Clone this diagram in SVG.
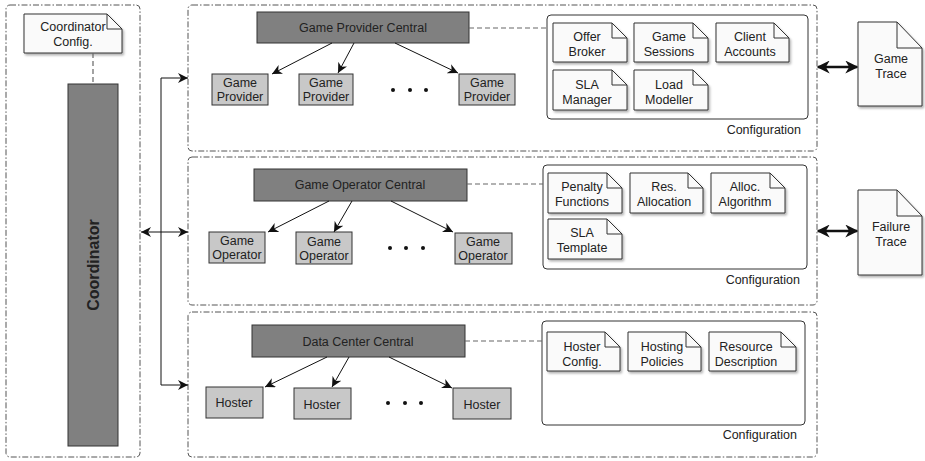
<svg xmlns="http://www.w3.org/2000/svg" width="925" height="461" viewBox="0 0 925 461">
<style>
text{font-family:"Liberation Sans",Arial,sans-serif;font-size:12.5px;fill:#222;text-anchor:middle}
.sec{fill:none;stroke:#555;stroke-width:1;stroke-dasharray:6,2,1.5,2}
.cfg{fill:#fff;stroke:#333;stroke-width:1}
.central{fill:#808080;stroke:#333;stroke-width:1}
.sub{fill:#c8c8c8;stroke:#333;stroke-width:1}
.note{fill:#fafafa;stroke:#333;stroke-width:1;filter:url(#sh)}
.fold{fill:none;stroke:#333;stroke-width:1}
.dash{fill:none;stroke:#666;stroke-width:1.2;stroke-dasharray:5,3}
.con{fill:none;stroke:#111;stroke-width:1}
.thick{fill:none;stroke:#111;stroke-width:2.5}
.lbl{text-anchor:end}
</style>
<defs>
<filter id="sh" x="-20%" y="-20%" width="150%" height="150%"><feDropShadow dx="1.5" dy="2" stdDeviation="1.2" flood-color="#000" flood-opacity="0.3"/></filter>
<marker id="ah" viewBox="0 0 10 10" refX="10" refY="5" markerWidth="10" markerHeight="10" markerUnits="userSpaceOnUse" orient="auto-start-reverse"><path d="M0,0 L10,5 L0,10 L3,5 Z" fill="#111"/></marker>
<marker id="ahb" viewBox="0 0 10 10" refX="9" refY="5" markerWidth="13" markerHeight="13" markerUnits="userSpaceOnUse" orient="auto-start-reverse"><path d="M0,0 L10,5 L0,10 L3,5 Z" fill="#111"/></marker>
</defs>

<g id="coordinator-section">
<rect class="sec" x="6" y="5" width="134" height="452" rx="4"/>
</g>
<g id="coordinator-config">
<path class="note" d="M24,14 H107 L122,29 V53 H24 Z"/>
<path class="fold" d="M107,14 V29 H122"/>
<text x="73" y="31">Coordinator</text>
<text x="73" y="46">Config.</text>
</g>
<g id="coordinator">
<rect class="central" x="68" y="84" width="50" height="362"/>
<text transform="translate(99,265) rotate(-90)" style="font-weight:bold;font-size:16px">Coordinator</text>
</g>

<g id="provider-section"><rect class="sec" x="188" y="5" width="629" height="146" rx="4"/></g>
<g id="operator-section"><rect class="sec" x="188" y="157" width="629" height="148" rx="4"/></g>
<g id="datacenter-section"><rect class="sec" x="188" y="312" width="629" height="145" rx="4"/></g>

<g id="game-provider-central"><rect class="central" x="257" y="12" width="212" height="31"/><text x="363" y="32">Game Provider Central</text></g>
<g id="game-provider-1"><rect class="sub" x="212" y="74" width="56" height="31"/><text x="240" y="87">Game</text><text x="240" y="101">Provider</text></g>
<g id="game-provider-2"><rect class="sub" x="299" y="74" width="54" height="31"/><text x="326" y="87">Game</text><text x="326" y="101">Provider</text></g>
<g id="game-provider-3"><rect class="sub" x="459" y="74" width="56" height="31"/><text x="487" y="87">Game</text><text x="487" y="101">Provider</text></g>
<g id="provider-dots" fill="#111"><circle cx="393" cy="90" r="2"/><circle cx="410" cy="90" r="2"/><circle cx="426" cy="90" r="2"/></g>

<g id="provider-config">
<rect class="cfg" x="547" y="15" width="261" height="104" rx="4"/>
<text class="lbl" x="801" y="134">Configuration</text>
</g>
<g id="offer-broker"><path class="note" d="M553,23 H612 L627,38 V62 H553 Z"/><path class="fold" d="M612,23 V38 H627"/><text x="587" y="41">Offer</text><text x="587" y="56">Broker</text></g>
<g id="game-sessions"><path class="note" d="M634,23 H693 L708,38 V62 H634 Z"/><path class="fold" d="M693,23 V38 H708"/><text x="669" y="41">Game</text><text x="669" y="56">Sessions</text></g>
<g id="client-accounts"><path class="note" d="M716,23 H774 L789,38 V62 H716 Z"/><path class="fold" d="M774,23 V38 H789"/><text x="750" y="41">Client</text><text x="750" y="56">Accounts</text></g>
<g id="sla-manager"><path class="note" d="M553,70 H612 L627,85 V110 H553 Z"/><path class="fold" d="M612,70 V85 H627"/><text x="587" y="89">SLA</text><text x="587" y="104">Manager</text></g>
<g id="load-modeller"><path class="note" d="M634,70 H693 L708,85 V110 H634 Z"/><path class="fold" d="M693,70 V85 H708"/><text x="669" y="89">Load</text><text x="669" y="104">Modeller</text></g>
<g id="game-trace"><path class="note" d="M858,22 H897 L922,48 V106 H858 Z"/><path class="fold" d="M897,22 V48 H922"/><text x="891" y="63">Game</text><text x="891" y="78">Trace</text></g>

<g id="game-operator-central"><rect class="central" x="254" y="169" width="213" height="32"/><text x="360" y="189">Game Operator Central</text></g>
<g id="game-operator-1"><rect class="sub" x="209" y="232" width="56" height="31"/><text x="237" y="245">Game</text><text x="237" y="259">Operator</text></g>
<g id="game-operator-2"><rect class="sub" x="296" y="232" width="56" height="32"/><text x="324" y="246">Game</text><text x="324" y="260">Operator</text></g>
<g id="game-operator-3"><rect class="sub" x="455" y="233" width="57" height="31"/><text x="483" y="246">Game</text><text x="483" y="260">Operator</text></g>
<g id="operator-dots" fill="#111"><circle cx="390" cy="248" r="2"/><circle cx="406" cy="248" r="2"/><circle cx="423" cy="248" r="2"/></g>

<g id="operator-config">
<rect class="cfg" x="543" y="165" width="264" height="104" rx="4"/>
<text class="lbl" x="800" y="284">Configuration</text>
</g>
<g id="penalty-functions"><path class="note" d="M548,173 H607 L622,188 V213 H548 Z"/><path class="fold" d="M607,173 V188 H622"/><text x="582" y="191">Penalty</text><text x="582" y="206">Functions</text></g>
<g id="res-allocation"><path class="note" d="M630,173 H688 L703,188 V213 H630 Z"/><path class="fold" d="M688,173 V188 H703"/><text x="664" y="191">Res.</text><text x="664" y="206">Allocation</text></g>
<g id="alloc-algorithm"><path class="note" d="M711,173 H770 L785,188 V213 H711 Z"/><path class="fold" d="M770,173 V188 H785"/><text x="745" y="191">Alloc.</text><text x="745" y="206">Algorithm</text></g>
<g id="sla-template"><path class="note" d="M548,219 H607 L622,234 V259 H548 Z"/><path class="fold" d="M607,219 V234 H622"/><text x="582" y="237">SLA</text><text x="582" y="252">Template</text></g>
<g id="failure-trace"><path class="note" d="M858,190 H897 L922,216 V275 H858 Z"/><path class="fold" d="M897,190 V216 H922"/><text x="891" y="231">Failure</text><text x="891" y="246">Trace</text></g>

<g id="data-center-central"><rect class="central" x="252" y="325" width="213" height="32"/><text x="358" y="346">Data Center Central</text></g>
<g id="hoster-1"><rect class="sub" x="206" y="387" width="57" height="31"/><text x="234" y="407">Hoster</text></g>
<g id="hoster-2"><rect class="sub" x="294" y="388" width="57" height="31"/><text x="322" y="409">Hoster</text></g>
<g id="hoster-3"><rect class="sub" x="453" y="388" width="58" height="31"/><text x="482" y="409">Hoster</text></g>
<g id="hoster-dots" fill="#111"><circle cx="388" cy="403" r="2"/><circle cx="405" cy="403" r="2"/><circle cx="421" cy="403" r="2"/></g>

<g id="datacenter-config">
<rect class="cfg" x="542" y="321" width="263" height="104" rx="4"/>
<text class="lbl" x="797" y="439">Configuration</text>
</g>
<g id="hoster-config"><path class="note" d="M547,332 H605 L620,347 V371 H547 Z"/><path class="fold" d="M605,332 V347 H620"/><text x="582" y="351">Hoster</text><text x="582" y="366">Config.</text></g>
<g id="hosting-policies"><path class="note" d="M628,332 H686 L701,347 V371 H628 Z"/><path class="fold" d="M686,332 V347 H701"/><text x="662" y="351">Hosting</text><text x="662" y="366">Policies</text></g>
<g id="resource-description"><path class="note" d="M709,332 H781 L796,347 V371 H709 Z"/><path class="fold" d="M781,332 V347 H796"/><text x="746" y="351">Resource</text><text x="746" y="366">Description</text></g>

<g id="connectors">
<path class="dash" d="M93,53 V84"/>
<path class="dash" d="M469,28 H547"/>
<path class="dash" d="M467,184 H543"/>
<path class="dash" d="M465,341 H542"/>
<path class="con" d="M161,385 V78 H188" marker-end="url(#ah)"/>
<path class="con" d="M161,385 H188" marker-end="url(#ah)"/>
<path class="con" d="M141,232 H188" marker-start="url(#ah)" marker-end="url(#ah)"/>
<path class="con" d="M332,43 L272,74" marker-end="url(#ah)"/>
<path class="con" d="M354,43 L338,73" marker-end="url(#ah)"/>
<path class="con" d="M395,43 L458,73" marker-end="url(#ah)"/>
<path class="con" d="M329,201 L268,232" marker-end="url(#ah)"/>
<path class="con" d="M352,201 L334,232" marker-end="url(#ah)"/>
<path class="con" d="M391,201 L453,232" marker-end="url(#ah)"/>
<path class="con" d="M327,357 L265,387" marker-end="url(#ah)"/>
<path class="con" d="M349,357 L332,387" marker-end="url(#ah)"/>
<path class="con" d="M389,357 L452,388" marker-end="url(#ah)"/>
<path class="thick" d="M818,67 H857" marker-start="url(#ahb)" marker-end="url(#ahb)"/>
<path class="thick" d="M818,231 H857" marker-start="url(#ahb)" marker-end="url(#ahb)"/>
</g>
</svg>
